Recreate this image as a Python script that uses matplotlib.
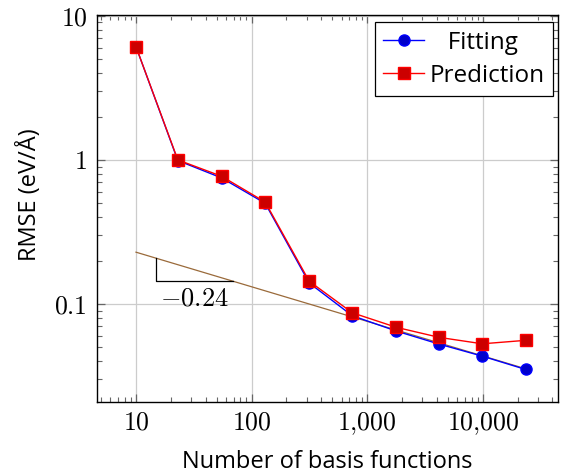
import numpy as np
import matplotlib.pyplot as plt
from matplotlib.ticker import FixedLocator, FixedFormatter, LogLocator, NullFormatter

plt.rcParams['mathtext.fontset'] = 'cm'
plt.rcParams['font.family'] = 'Open Sans'

# data
n_basis = [10, 23, 55, 131, 315, 742, 1780, 4200, 9900, 23400]
rmse_fit = [6.1, 0.99, 0.75, 0.50, 0.140, 0.083, 0.065, 0.0527, 0.0435, 0.0352]
rmse_pred = [6.1, 1.0, 0.77, 0.51, 0.144, 0.087, 0.069, 0.0587, 0.053, 0.056]

slope = -0.24
trend_at_10 = 0.229
tri_x = [15, 69]

xticks = [10, 100, 1000, 10000]
xtick_labels = [r'$10$', r'$100$', r'$1{,}000$', r'$10{,}000$']
yticks = [0.1, 1, 10]
ytick_labels = [r'$0.1$', r'$1$', r'$10$']


def trend(x):
    return trend_at_10 * (np.asarray(x, dtype=float) / 10.0) ** slope


fig = plt.figure(figsize=(5.63, 4.73), dpi=100)
ax = fig.add_axes([0.1723, 0.150, 0.8187, 0.818])

ax.set_xscale('log')
ax.set_yscale('log')
ax.set_xlim(4.6, 44600)
ax.set_ylim(0.0209, 10.1)

ax.grid(True, which='major', color='#cccccc', lw=0.9)
ax.set_axisbelow(True)

# fitted power law and slope triangle
xs = np.array([n_basis[0], n_basis[-1]])
ax.plot(xs, trend(xs), color='#9a6a3a', lw=0.9, zorder=3)
x0, x1 = tri_x
ax.plot([x0, x0, x1], [trend(x0), trend(x1), trend(x1)], color='black', lw=0.9, zorder=3)
ax.text(np.sqrt(x0 * x1), trend(x1) * 0.92, r'$-0.24$', fontsize=19,
        ha='center', va='top')

ax.plot(n_basis, rmse_fit, color='blue', lw=1.0, marker='o', ms=8,
        mfc='#0000cc', mec='blue', label='   Fitting', zorder=4)
ax.plot(n_basis, rmse_pred, color='red', lw=1.0, marker='s', ms=8,
        mfc='#cc0000', mec='red', label='Prediction', zorder=5)

ax.xaxis.set_major_locator(FixedLocator(xticks))
ax.xaxis.set_major_formatter(FixedFormatter(xtick_labels))
ax.xaxis.set_minor_locator(LogLocator(base=10, subs=np.arange(2, 10), numticks=20))
ax.xaxis.set_minor_formatter(NullFormatter())
ax.yaxis.set_major_locator(FixedLocator(yticks))
ax.yaxis.set_major_formatter(FixedFormatter(ytick_labels))
ax.yaxis.set_minor_locator(LogLocator(base=10, subs=np.arange(2, 10), numticks=20))
ax.yaxis.set_minor_formatter(NullFormatter())

ax.tick_params(which='both', direction='in', top=True, right=True, color='#666666')
ax.tick_params(which='major', length=6, width=0.9, labelsize=18.5)
ax.tick_params(axis='x', which='major', pad=6)
ax.tick_params(axis='y', which='major', pad=7)
ax.tick_params(which='minor', length=3.5, width=0.8)
for s in ax.spines.values():
    s.set_linewidth(1.0)

ax.set_xlabel('Number of basis functions', fontsize=17, labelpad=9)
ax.set_ylabel('RMSE (eV/Å)', fontsize=17, labelpad=9)
ax.yaxis.label.set_y(0.535)

leg = ax.legend(loc='upper right', fontsize=17.5, fancybox=False, edgecolor='black',
                framealpha=1, handlelength=1.7, handletextpad=0.2,
                borderaxespad=0, borderpad=0.35,
                bbox_to_anchor=(0.989, 0.982), labelspacing=0.38)
leg.get_frame().set_linewidth(0.9)

fig.savefig('out.png', dpi=100)
